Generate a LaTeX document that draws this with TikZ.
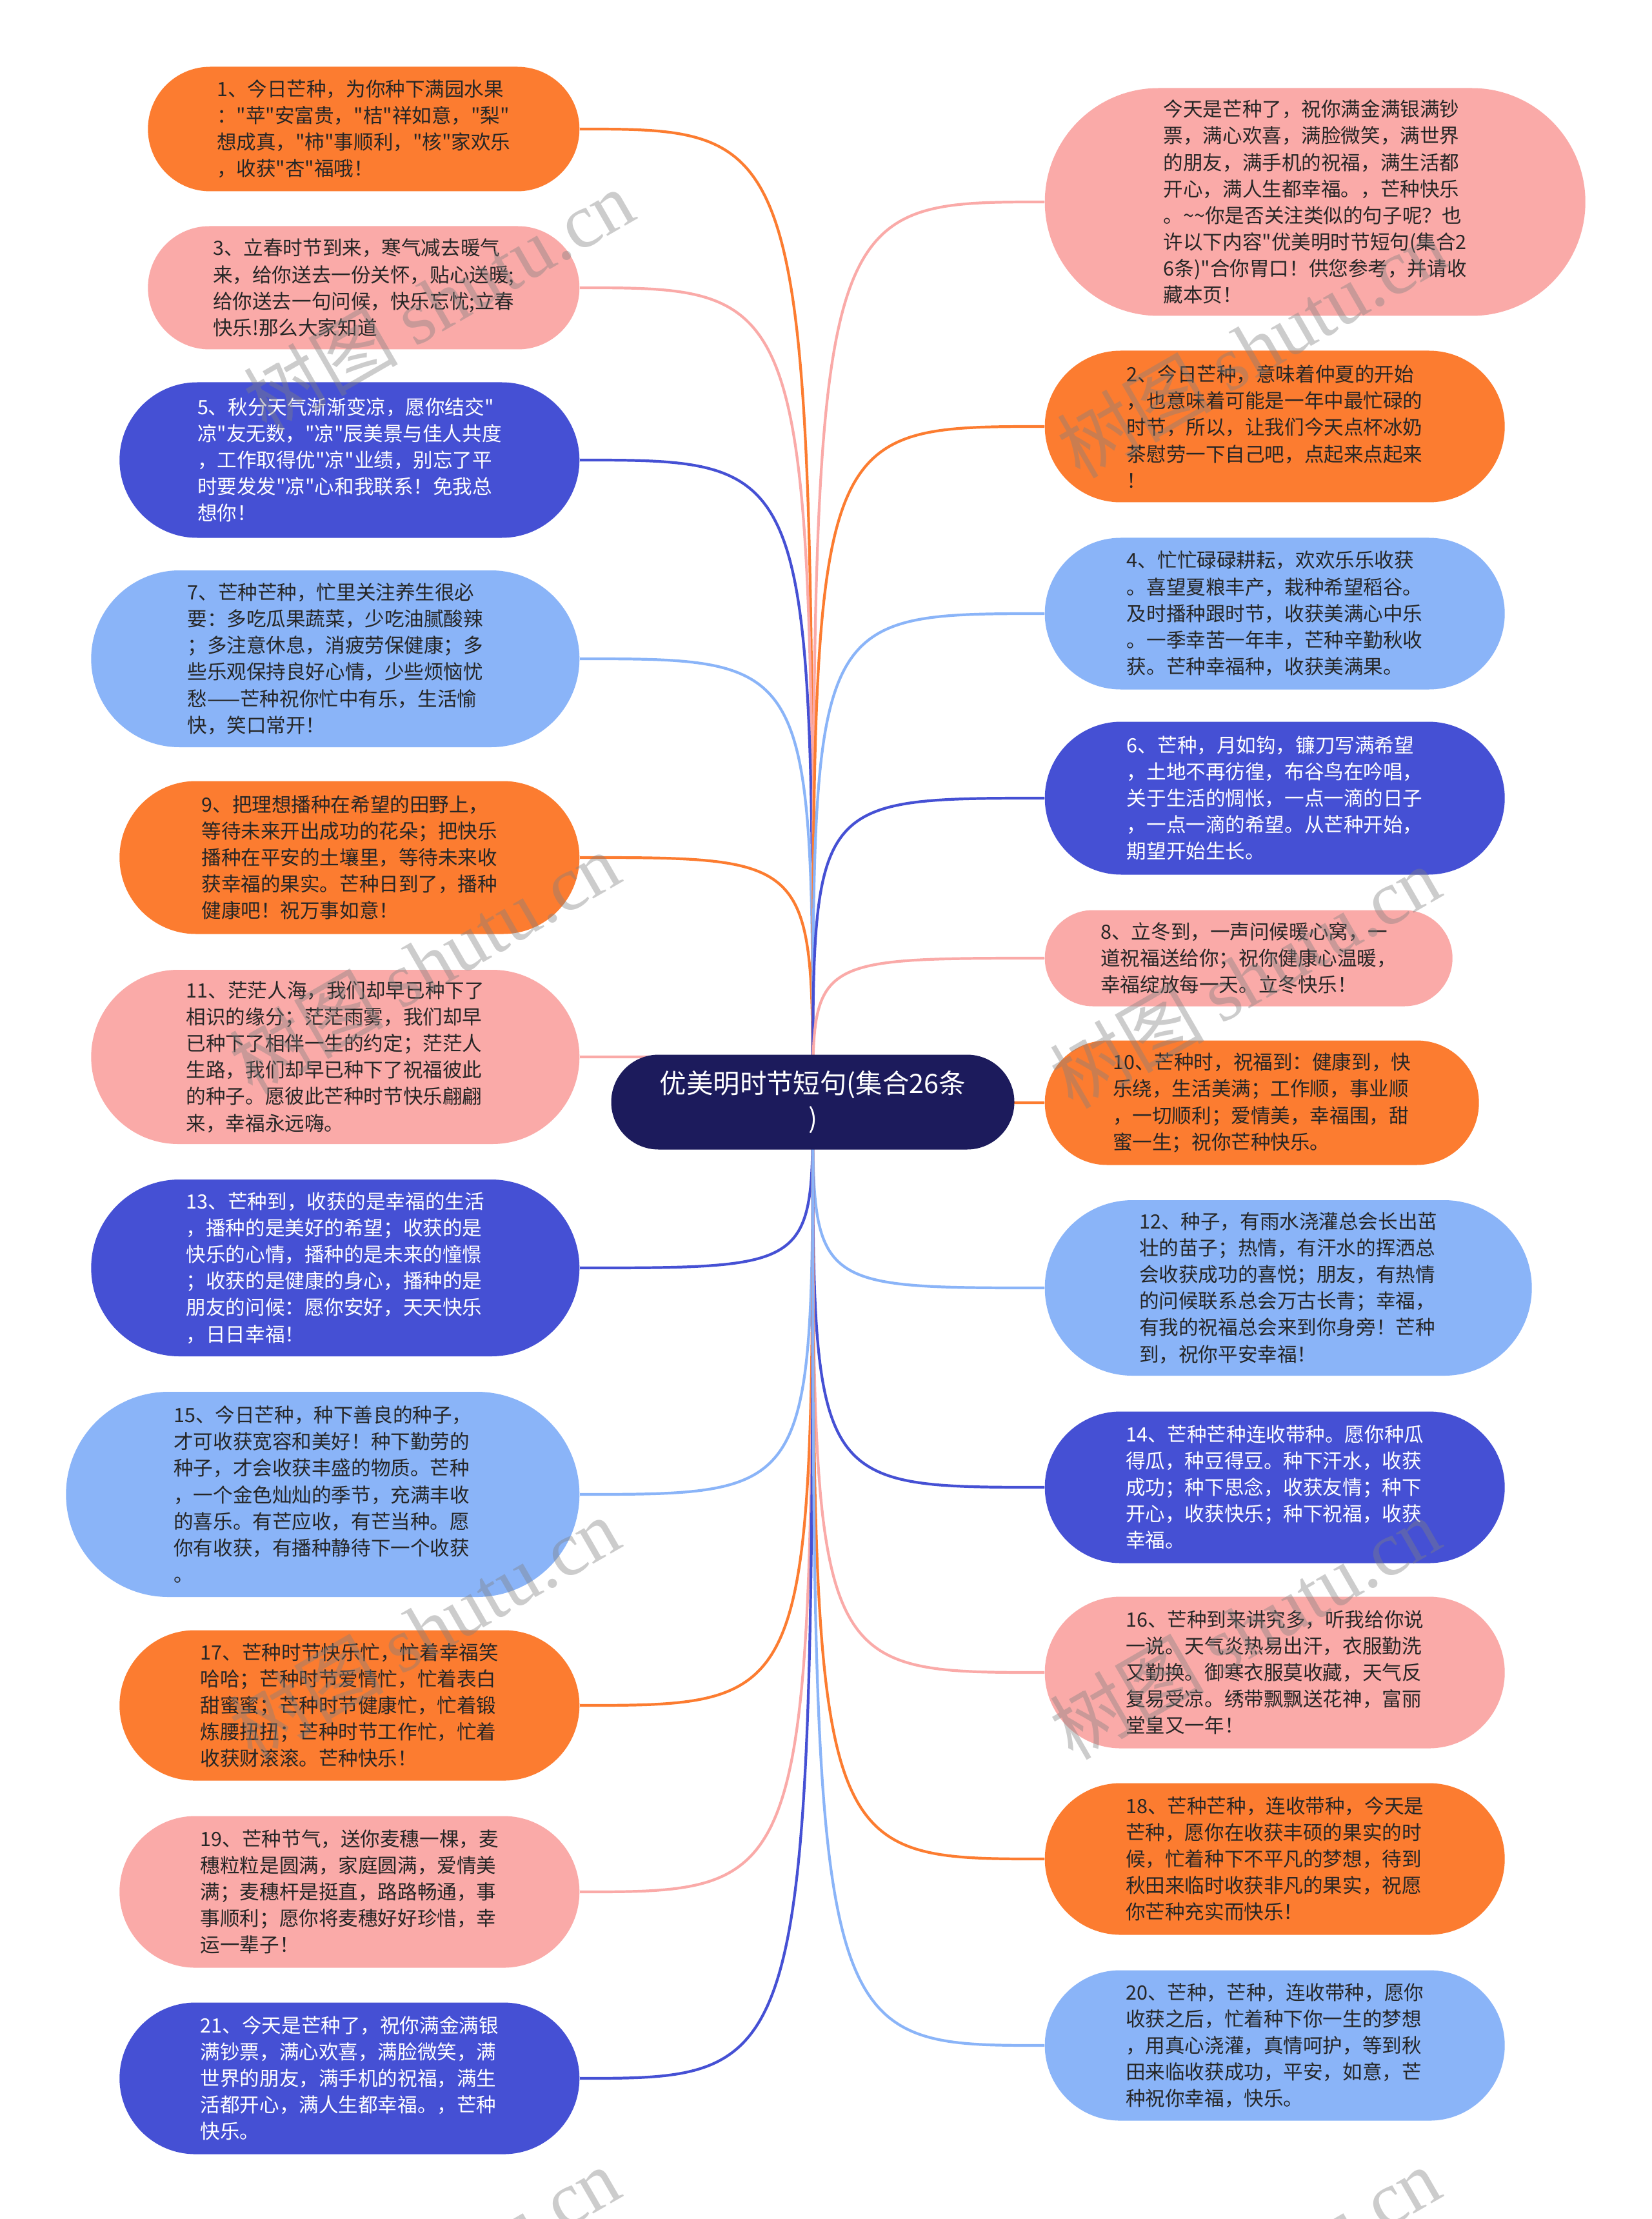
\documentclass[tikz,border=0pt]{standalone}
\usepackage{fontspec}
\newfontfamily\cjk{Noto Sans CJK SC}
\newfontfamily\markfont{Liberation Serif}
\usetikzlibrary{shapes.misc,backgrounds}

\definecolor{cOrange}{HTML}{FC7C30}
\definecolor{cPink}{HTML}{FAAAA8}
\definecolor{cSky}{HTML}{8AB4F8}
\definecolor{cDeep}{HTML}{4550D4}
\definecolor{cNavy}{HTML}{1C1B5C}
\definecolor{cText}{HTML}{262626}

\begin{document}
\begin{tikzpicture}[
  font=\cjk\fontsize{8.7pt}{11.7pt}\selectfont,
  pill/.style 2 args={rounded rectangle,inner sep=0pt,align=left,minimum width=#1,minimum height=#2},
  lft/.style={anchor=east},
  rgt/.style={anchor=west},
  warm/.style={fill=cOrange,text=cText},
  rose/.style={fill=cPink,text=cText},
  sky/.style={fill=cSky,text=cText},
  deep/.style={fill=cDeep,text=white},
  hub/.style={pill={6.25cm}{1.47cm},fill=cNavy,text=white,align=center,font=\cjk\fontsize{11.8pt}{15.6pt}\selectfont},
  link/.style={line width=1.2pt,draw=#1},
  wmark/.style={text=black!50,opacity=.4,rotate=30,font=\cjk\fontsize{34pt}{34pt}\selectfont}
]
\useasboundingbox (0,0) rectangle (25.6,-34.39);

% centre topic
\node[hub] (root) at (12.60,-17.08) {优美明时节短句(集合26条\\)};

% left column, odd numbers
\node[pill={6.69cm}{1.93cm},warm,lft] (l1) at (8.99,-2.00) {1、今日芒种，为你种下满园水果\\："苹"安富贵，"桔"祥如意，"梨"\\想成真，"柿"事顺利，"核"家欢乐\\，收获"杏"福哦！};
\node[pill={6.69cm}{1.91cm},rose,lft] (l3) at (8.99,-4.46) {3、立春时节到来，寒气减去暖气\\来，给你送去一份关怀，贴心送暖;\\给你送去一句问候，快乐忘忧;立春\\快乐!那么大家知道};
\node[pill={7.13cm}{2.41cm},deep,lft] (l5) at (8.99,-7.13) {5、秋分天气渐渐变凉，愿你结交"\\凉"友无数，"凉"辰美景与佳人共度\\，工作取得优"凉"业绩，别忘了平\\时要发发"凉"心和我联系！免我总\\想你！};
\node[pill={7.57cm}{2.74cm},sky,lft] (l7) at (8.99,-10.21) {7、芒种芒种，忙里关注养生很必\\要：多吃瓜果蔬菜，少吃油腻酸辣\\；多注意休息，消疲劳保健康；多\\些乐观保持良好心情，少些烦恼忧\\愁——芒种祝你忙中有乐，生活愉\\快，笑口常开！};
\node[pill={7.13cm}{2.37cm},warm,lft] (l9) at (8.99,-13.29) {9、把理想播种在希望的田野上，\\等待未来开出成功的花朵；把快乐\\播种在平安的土壤里，等待未来收\\获幸福的果实。芒种日到了，播种\\健康吧！祝万事如意！};
\node[pill={7.57cm}{2.70cm},rose,lft] (l11) at (8.99,-16.38) {11、茫茫人海，我们却早已种下了\\相识的缘分；茫茫雨雾，我们却早\\已种下了相伴一生的约定；茫茫人\\生路，我们却早已种下了祝福彼此\\的种子。愿彼此芒种时节快乐翩翩\\来，幸福永远嗨。};
\node[pill={7.57cm}{2.74cm},deep,lft] (l13) at (8.99,-19.65) {13、芒种到，收获的是幸福的生活\\，播种的是美好的希望；收获的是\\快乐的心情，播种的是未来的憧憬\\；收获的是健康的身心，播种的是\\朋友的问候：愿你安好，天天快乐\\，日日幸福！};
\node[pill={7.96cm}{3.18cm},sky,lft] (l15) at (8.99,-23.16) {15、今日芒种，种下善良的种子，\\才可收获宽容和美好！种下勤劳的\\种子，才会收获丰盛的物质。芒种\\，一个金色灿灿的季节，充满丰收\\的喜乐。有芒应收，有芒当种。愿\\你有收获，有播种静待下一个收获\\。};
\node[pill={7.13cm}{2.33cm},warm,lft] (l17) at (8.99,-26.43) {17、芒种时节快乐忙，忙着幸福笑\\哈哈；芒种时节爱情忙，忙着表白\\甜蜜蜜；芒种时节健康忙，忙着锻\\炼腰扭扭；芒种时节工作忙，忙着\\收获财滚滚。芒种快乐！};
\node[pill={7.13cm}{2.35cm},rose,lft] (l19) at (8.99,-29.32) {19、芒种节气，送你麦穗一棵，麦\\穗粒粒是圆满，家庭圆满，爱情美\\满；麦穗杆是挺直，路路畅通，事\\事顺利；愿你将麦穗好好珍惜，幸\\运一辈子！};
\node[pill={7.13cm}{2.35cm},deep,lft] (l21) at (8.99,-32.21) {21、今天是芒种了，祝你满金满银\\满钞票，满心欢喜，满脸微笑，满\\世界的朋友，满手机的祝福，满生\\活都开心，满人生都幸福。，芒种\\快乐。};

% right column, even numbers
\node[pill={8.38cm}{3.53cm},rose,rgt] (r0) at (16.19,-3.13) {今天是芒种了，祝你满金满银满钞\\票，满心欢喜，满脸微笑，满世界\\的朋友，满手机的祝福，满生活都\\开心，满人生都幸福。，芒种快乐\\。\textasciitilde\textasciitilde 你是否关注类似的句子呢？也\\许以下内容"优美明时节短句(集合2\\6条)"合你胃口！供您参考，并请收\\藏本页！};
\node[pill={7.13cm}{2.35cm},warm,rgt] (r2) at (16.19,-6.61) {2、今日芒种，意味着仲夏的开始\\，也意味着可能是一年中最忙碌的\\时节，所以，让我们今天点杯冰奶\\茶慰劳一下自己吧，点起来点起来\\！};
\node[pill={7.13cm}{2.35cm},sky,rgt] (r4) at (16.19,-9.51) {4、忙忙碌碌耕耘，欢欢乐乐收获\\。喜望夏粮丰产，栽种希望稻谷。\\及时播种跟时节，收获美满心中乐\\。一季幸苦一年丰，芒种辛勤秋收\\获。芒种幸福种，收获美满果。};
\node[pill={7.13cm}{2.37cm},deep,rgt] (r6) at (16.19,-12.37) {6、芒种，月如钩，镰刀写满希望\\，土地不再彷徨，布谷鸟在吟唱，\\关于生活的惆怅，一点一滴的日子\\，一点一滴的希望。从芒种开始，\\期望开始生长。};
\node[pill={6.32cm}{1.49cm},rose,rgt] (r8) at (16.19,-14.85) {8、立冬到，一声问候暖心窝，一\\道祝福送给你；祝你健康心温暖，\\幸福绽放每一天。立冬快乐！};
\node[pill={6.73cm}{1.93cm},warm,rgt] (r10) at (16.19,-17.09) {10、芒种时，祝福到：健康到，快\\乐绕，生活美满；工作顺，事业顺\\，一切顺利；爱情美，幸福围，甜\\蜜一生；祝你芒种快乐。};
\node[pill={7.55cm}{2.72cm},sky,rgt] (r12) at (16.19,-19.96) {12、种子，有雨水浇灌总会长出茁\\壮的苗子；热情，有汗水的挥洒总\\会收获成功的喜悦；朋友，有热情\\的问候联系总会万古长青；幸福，\\有我的祝福总会来到你身旁！芒种\\到，祝你平安幸福！};
\node[pill={7.13cm}{2.35cm},deep,rgt] (r14) at (16.19,-23.05) {14、芒种芒种连收带种。愿你种瓜\\得瓜，种豆得豆。种下汗水，收获\\成功；种下思念，收获友情；种下\\开心，收获快乐；种下祝福，收获\\幸福。};
\node[pill={7.13cm}{2.35cm},rose,rgt] (r16) at (16.19,-25.92) {16、芒种到来讲究多，听我给你说\\一说。天气炎热易出汗，衣服勤洗\\又勤换。御寒衣服莫收藏，天气反\\复易受凉。绣带飘飘送花神，富丽\\堂皇又一年！};
\node[pill={7.13cm}{2.35cm},warm,rgt] (r18) at (16.19,-28.81) {18、芒种芒种，连收带种，今天是\\芒种，愿你在收获丰硕的果实的时\\候，忙着种下不平凡的梦想，待到\\秋田来临时收获非凡的果实，祝愿\\你芒种充实而快乐！};
\node[pill={7.13cm}{2.33cm},sky,rgt] (r20) at (16.19,-31.70) {20、芒种，芒种，连收带种，愿你\\收获之后，忙着种下你一生的梦想\\，用真心浇灌，真情呵护，等到秋\\田来临收获成功，平安，如意，芒\\种祝你幸福，快乐。};

% branches, behind the boxes
\begin{pgfonlayer}{background}
\fill[white] (0,0) rectangle (25.6,-34.39);
\foreach \n/\c in {l1/cOrange,l3/cPink,l5/cDeep,l7/cSky,l9/cOrange,l11/cPink,
                   l13/cDeep,l15/cSky,l17/cOrange,l19/cPink,l21/cDeep}
  \draw[link=\c] (root.center) .. controls (root.center |- \n.east) .. (\n.east);
\foreach \n/\c in {r0/cPink,r2/cOrange,r4/cSky,r6/cDeep,r8/cPink,r10/cOrange,
                   r12/cSky,r14/cDeep,r16/cPink,r18/cOrange,r20/cSky}
  \draw[link=\c] (root.center) .. controls (root.center |- \n.west) .. (\n.west);
\end{pgfonlayer}

% watermark
\begin{scope}
\clip (0,0) rectangle (25.6,-34.39);
\foreach \x/\y in {6.80/-4.65,19.41/-5.37,6.58/-14.92,19.30/-15.14,
                   6.58/-25.23,19.30/-25.23,6.58/-35.30,19.30/-35.30}
  \node[wmark] (wm) at (\x,\y) {树图 {\markfont shutu.cn}};
\end{scope}
\end{tikzpicture}
\end{document}
